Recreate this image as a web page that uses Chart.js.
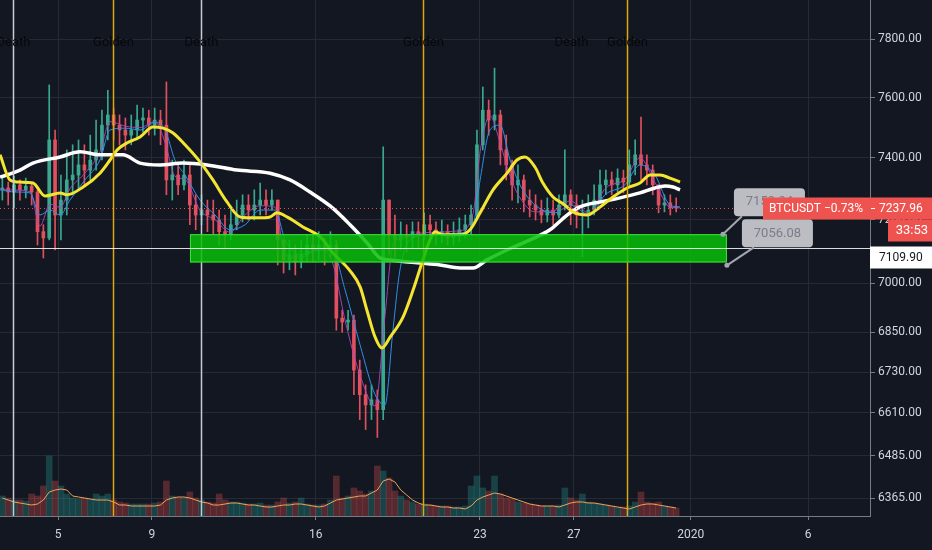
<!DOCTYPE html>
<html>
<head>
<meta charset="utf-8">
<script src="https://cdn.jsdelivr.net/npm/chart.js@4.4.0/dist/chart.umd.min.js"></script>
<style>
  html, body { margin: 0; padding: 0; background: #131722; }
  #wrap { width: 932px; height: 550px; position: relative; }
</style>
</head>
<body>
<div id="wrap"><canvas id="chart"></canvas></div>
<script>
// ---------- data: BTCUSDT, 6h candles; x is day of Dec 2019 (32 = Jan 1 2020) ----------
const firstCandleDay = 2.625;
const candleStep = 0.25;
const firstOpen = 7296;

const closes = [7302,7289,7312,7296,7308,7289,7162,7142,7459,7215,
  7263,7328,7344,7377,7360,7393,7426,7508,7542,7508,
  7492,7475,7492,7525,7532,7508,7525,7508,7328,7344,
  7312,7344,7247,7215,7231,7215,7199,7162,7152,7184,
  7215,7247,7231,7247,7263,7247,7263,7136,7073,7089,
  7067,7089,7120,7104,7120,7104,7120,6893,6881,6887,
  6736,6663,6633,6648,6619,7263,7152,7136,7152,7142,
  7162,7152,7184,7168,7152,7162,7142,7152,7168,7184,
  7215,7443,7558,7525,7542,7426,7377,7312,7328,7263,
  7247,7231,7215,7231,7215,7247,7280,7247,7215,7215,
  7231,7263,7312,7328,7312,7334,7321,7377,7410,7377,
  7360,7312,7247,7254,7238,7237.96];

const highs = [7334,7321,7340,7328,7334,7321,7296,7184,7643,7492,
  7344,7426,7443,7459,7443,7475,7525,7558,7625,7565,
  7542,7532,7542,7575,7565,7558,7565,7558,7653,7393,
  7377,7393,7377,7280,7280,7263,7263,7231,7215,7231,
  7263,7280,7280,7296,7318,7296,7296,7263,7136,7136,
  7120,7136,7152,7152,7162,7142,7162,7136,6917,6917,
  6902,6766,6692,6692,6677,7436,7263,7215,7193,7184,
  7193,7193,7222,7215,7193,7199,7184,7193,7206,7215,
  7247,7492,7636,7592,7700,7558,7475,7393,7377,7344,
  7296,7280,7263,7270,7263,7280,7426,7296,7280,7263,
  7280,7312,7360,7360,7354,7364,7360,7426,7459,7535,
  7410,7377,7312,7280,7280,7270];

const lows = [7263,7247,7238,7263,7270,7247,7120,7079,7136,7104,
  7136,7215,7280,7296,7312,7328,7360,7393,7459,7459,
  7443,7426,7443,7459,7485,7475,7475,7443,7280,7263,
  7280,7296,7184,7168,7184,7162,7152,7120,7111,7136,
  7168,7193,7199,7199,7215,7215,7231,7057,7032,7042,
  7026,7048,7067,7067,7073,7057,7079,6856,6850,6856,
  6663,6590,6561,6590,6538,6590,7089,7079,7104,7098,
  7111,7111,7136,7127,7120,7127,7120,7120,7130,7142,
  7152,7199,7426,7475,7492,7377,7328,7263,7254,7225,
  7209,7199,7190,7193,7184,7206,7231,7184,7174,7082,
  7174,7215,7263,7280,7280,7289,7286,7312,7344,7328,
  7312,7280,7222,7225,7215,7225];

// average hourly volume (BTC) per 6h candle and its moving average
const volumes = [2000,1800,1600,1600,1500,2200,2000,3000,6000,3500,
  3000,2200,1800,1700,1800,1700,2200,2000,2200,1600,
  1400,1300,1200,1200,1200,1200,1300,1400,3500,2000,
  1800,1800,2400,1800,1600,1400,1300,2200,1600,1400,
  1400,1300,1200,1200,1300,1100,1100,1400,1800,1300,
  1400,1800,1200,1100,1100,1200,1600,4000,1800,2000,
  2800,2500,2200,2500,5000,4500,3800,2500,2000,1600,
  1400,1200,1200,1100,1000,1000,1000,900,900,1000,
  3000,4000,2800,2500,4000,2200,1800,1700,1400,1300,
  1200,1100,1000,1000,1000,1100,2800,1800,1600,2200,
  1400,1300,1200,1100,1000,900,900,1000,1400,2400,
  1400,1300,1400,1000,900,800];

const volumeMa = [1800,1600,1400,1300,1200,1100,1200,1600,2400,2600,
  2700,2600,2000,1900,1800,1700,1600,1600,1600,1400,
  1100,1100,1000,1000,1000,1000,1000,1100,1600,1800,
  1900,1900,1800,1600,1400,1300,1100,1100,1200,1300,
  1300,1200,1100,1100,1000,900,900,1000,1100,1100,
  1200,1200,1100,1000,900,1000,1300,1600,1700,1800,
  1900,2000,2000,2300,2600,3500,3700,3400,2600,2100,
  1600,1300,1100,1100,1000,900,900,800,800,700,
  1000,1600,1900,2100,2300,2200,2000,1800,1600,1400,
  1200,1100,1000,1000,1000,900,1100,1300,1400,1400,
  1300,1300,1200,1100,1000,900,800,700,900,1100,
  1200,1200,1100,1000,900,800];

// moving averages
const yellowDays = [2.53,2.95,3.38,3.93,4.45,5.09,5.38,6.07,6.79,7.22,
  7.52,7.94,8.50,9.05,9.48,9.91,10.42,11.06,11.61,12.21,
  12.77,13.49,14.05,14.34,14.77,15.45,16.18,16.73,17.46,17.89,
  18.18,18.53,18.82,19.17,19.72,20.15,20.53,20.87,21.09,21.43,
  22.15,22.58,23.01,23.56,24.16,24.58,24.93,25.35,25.69,26.12,
  26.55,26.97,27.57,28.13,28.68,29.28,29.83,30.26,30.69,31.11,31.54];
const yellowMa = [7410,7328,7321,7318,7276,7286,7280,7305,7350,7393,
  7426,7449,7469,7502,7498,7482,7443,7387,7328,7257,
  7209,7206,7209,7222,7209,7177,7146,7095,7039,6989,
  6917,6835,6802,6835,6896,6979,7064,7136,7162,7152,
  7152,7168,7222,7296,7350,7393,7403,7370,7318,7273,
  7251,7225,7215,7241,7273,7302,7318,7344,7344,7334,7321];

const whiteDays = [2.53,3.38,3.93,5.09,5.94,6.79,7.77,8.50,9.35,10.33,
  11.36,12.64,14.05,14.90,15.75,16.61,17.46,18.18,18.74,19.17,
  20.32,21.30,22.15,22.71,23.30,24.16,25.14,25.99,26.72,27.27,
  28.13,28.98,29.83,30.47,30.90,31.24,31.54];
const whiteMa = [7337,7360,7383,7403,7420,7410,7410,7383,7377,7383,
  7377,7360,7350,7328,7289,7244,7184,7127,7079,7073,
  7064,7057,7048,7048,7073,7104,7136,7168,7215,7241,
  7257,7270,7286,7302,7308,7305,7296];

const fastDays = [2.53,3.17,3.81,4.23,4.66,5.09,5.51,6.15,6.79,7.22,
  7.86,8.50,9.14,9.57,9.99,10.42,11.06,11.70,12.34,12.98,
  13.62,14.26,14.69,15.33,16.18,16.73,17.25,17.89,18.53,18.95,
  19.29,19.59,20.02,20.87,22.15,22.71,23.01,23.43,23.86,24.29,
  24.71,25.35,26.21,26.85,27.70,28.34,29.19,29.83,30.47,31.11,31.54];
const blueMa = [7296,7289,7286,7215,7231,7215,7263,7328,7393,7492,
  7498,7492,7518,7492,7393,7344,7263,7215,7168,7184,
  7231,7231,7136,7089,7104,7098,6979,6811,6663,6633,
  6856,7042,7136,7152,7158,7184,7328,7492,7508,7393,
  7312,7247,7222,7247,7215,7280,7312,7377,7344,7247,7241];
const purpleMa = [7298,7295,7290,7180,7250,7240,7300,7350,7420,7520,
  7505,7500,7520,7450,7340,7330,7230,7200,7160,7215,
  7245,7240,7090,7080,7110,7060,6885,6720,6630,6900,
  7120,7140,7150,7160,7165,7220,7420,7540,7450,7340,
  7270,7225,7230,7260,7220,7300,7330,7400,7320,7240,7238];

const xTicks = [5, 9, 16, 23, 27, 32, 37];
const xTickLabels = ['5', '9', '16', '23', '27', '2020', '6'];
const priceTicks = [6365, 6485, 6610, 6730, 6850, 7000, 7200, 7400, 7600, 7800];
const xMin = 2.525, xMax = 39.645;
const yMin = 6314.5, yMax = 7936;

const signalDays = [3.08, 7.35, 11.10, 20.57, 26.89, 29.28];
const signalNames = ['Death', 'Golden', 'Death', 'Golden', 'Death', 'Golden'];
const signalHasLine = [true, true, true, true, false, true];

const zoneDays = [10.63, 33.54];
const zonePrices = [7153.94, 7065];
const calloutDays = [33.37, 33.54];
const calloutPrices = [7153.94, 7056.08];
const lastPrice = 7237.96;
const lastChange = '\u22120.73%';
const markedPrice = 7109.90;
const countdown = '33:53';

// ---------- build datasets ----------
const UP = '#3aa88f', DOWN = '#e0505e';
const days = closes.map((c, i) => firstCandleDay + i * candleStep);
const opens = closes.map((c, i) => i === 0 ? firstOpen : closes[i - 1]);
const candleColors = closes.map((c, i) => c >= opens[i] ? UP : DOWN);
const volColors = closes.map((c, i) => c >= opens[i] ? 'rgba(38,166,154,0.3)' : 'rgba(239,83,80,0.3)');

function pts(xs, ys) { return xs.map((d, i) => ({ x: d, y: ys[i] })); }

const overlay = {
  id: 'overlay',
  afterDatasetsDraw(chart) {
    const { ctx, chartArea: a, scales: { x, y } } = chart;
    ctx.save();
    ctx.beginPath();
    ctx.rect(a.left, a.top, a.right - a.left, a.bottom - a.top);
    ctx.clip();

    // golden / death cross markers
    signalDays.forEach((d, i) => {
      const px = Math.round(x.getPixelForValue(d)) + 0.5;
      if (signalHasLine[i]) {
        ctx.strokeStyle = signalNames[i] === 'Golden' ? '#d9a90f' : '#c9cbd1';
        ctx.lineWidth = 1.5;
        ctx.beginPath(); ctx.moveTo(px, a.top); ctx.lineTo(px, a.bottom); ctx.stroke();
      }
      ctx.font = '13px Roboto';
      ctx.fillStyle = '#07080c';
      ctx.textAlign = 'center';
      ctx.textBaseline = 'middle';
      ctx.fillText(signalNames[i], px, 43);
    });

    // support zone
    const zx0 = x.getPixelForValue(zoneDays[0]), zx1 = x.getPixelForValue(zoneDays[1]);
    const zy0 = y.getPixelForValue(zonePrices[0]), zy1 = y.getPixelForValue(zonePrices[1]);
    ctx.fillStyle = 'rgba(8,190,8,0.85)';
    ctx.fillRect(zx0, zy0, zx1 - zx0, zy1 - zy0);
    ctx.strokeStyle = '#3ee03e';
    ctx.lineWidth = 1;
    ctx.strokeRect(zx0 + 0.5, zy0 + 0.5, zx1 - zx0 - 1, zy1 - zy0 - 1);

    // marked horizontal price
    const my = Math.round(y.getPixelForValue(markedPrice)) + 0.5;
    ctx.strokeStyle = 'rgba(255,255,255,0.85)';
    ctx.beginPath(); ctx.moveTo(a.left, my); ctx.lineTo(a.right, my); ctx.stroke();

    // last price dotted line
    const ly = Math.round(y.getPixelForValue(lastPrice)) + 0.5;
    ctx.strokeStyle = '#ef5350';
    ctx.setLineDash([1, 3]);
    ctx.beginPath(); ctx.moveTo(a.left, ly); ctx.lineTo(a.right, ly); ctx.stroke();
    ctx.setLineDash([]);
    ctx.restore();

    // price callouts of the zone
    ctx.save();
    calloutPrices.forEach((p, i) => {
      const ax = x.getPixelForValue(calloutDays[i]);
      const ay = y.getPixelForValue(p);
      const bx = ax + 11 + i * 4, by = ay - 18 - 28;
      ctx.strokeStyle = '#a3a6af';
      ctx.lineWidth = 2;
      ctx.beginPath(); ctx.moveTo(ax, ay); ctx.lineTo(bx + 8 + i * 4, by + 28); ctx.stroke();
      ctx.fillStyle = '#a3a6af';
      ctx.beginPath(); ctx.arc(ax, ay, 2.5, 0, Math.PI * 2); ctx.fill();
      ctx.fillStyle = 'rgba(196,198,204,0.95)';
      ctx.beginPath(); ctx.roundRect(bx, by, 71, 28, 4); ctx.fill();
      ctx.fillStyle = '#7b7e89';
      ctx.font = '13px Roboto';
      ctx.textAlign = 'center';
      ctx.textBaseline = 'middle';
      ctx.fillText(p.toFixed(2), bx + 35.5, by + 14);
    });

    // symbol label on the last price
    ctx.fillStyle = '#ef5350';
    ctx.fillRect(a.right - 107, ly - 11, 107, 22);
    ctx.fillStyle = '#ffffff';
    ctx.font = '12px Roboto';
    ctx.textAlign = 'left';
    ctx.textBaseline = 'middle';
    ctx.fillText('BTCUSDT ' + lastChange, a.right - 101, ly + 0.5);

    // price scale labels
    const right = chart.width;
    ctx.fillStyle = '#ef5350';
    ctx.fillRect(a.right, ly - 11, right - a.right, 22);
    ctx.fillRect(a.right + 18, ly + 11, right - a.right - 18, 22);
    ctx.fillStyle = '#ffffff';
    ctx.fillRect(a.right + 1, ly - 0.5, 4, 1);
    ctx.font = '12px Roboto';
    ctx.fillText(lastPrice.toFixed(2), a.right + 9, ly + 0.5);
    ctx.textAlign = 'right';
    ctx.font = '13px Roboto';
    ctx.fillText(countdown, right - 4, ly + 22.5);
    const wy = Math.max(my - 11, ly + 38);
    ctx.fillStyle = '#ffffff';
    ctx.fillRect(a.right, wy, right - a.right, 22);
    ctx.fillStyle = '#131722';
    ctx.textAlign = 'left';
    ctx.font = '12px Roboto';
    ctx.fillText(markedPrice.toFixed(2), a.right + 9, wy + 11.5);
    ctx.restore();
  }
};

Chart.defaults.font.family = 'Roboto';

new Chart(document.getElementById('chart'), {
  type: 'bar',
  data: {
    datasets: [
      {
        type: 'line', label: 'MA 50', data: pts(yellowDays, yellowMa), order: 1,
        borderColor: '#f4e531', borderWidth: 3, pointRadius: 0, cubicInterpolationMode: 'monotone'
      },
      {
        type: 'line', label: 'MA 200', data: pts(whiteDays, whiteMa), order: 2,
        borderColor: '#ffffff', borderWidth: 3.5, pointRadius: 0, cubicInterpolationMode: 'monotone'
      },
      {
        type: 'line', label: 'MA 20', data: pts(fastDays, blueMa), order: 3,
        borderColor: '#2f8fe8', borderWidth: 1, pointRadius: 0, cubicInterpolationMode: 'monotone'
      },
      {
        type: 'line', label: 'MA 10', data: pts(fastDays, purpleMa), order: 3,
        borderColor: 'rgba(171,71,188,0.9)', borderWidth: 1, pointRadius: 0, cubicInterpolationMode: 'monotone'
      },
      {
        label: 'body', data: days.map((d, i) => ({ x: d, y: [opens[i], closes[i]] })), order: 4,
        backgroundColor: candleColors, barThickness: 3, minBarLength: 1, grouped: false
      },
      {
        label: 'wick', data: days.map((d, i) => ({ x: d, y: [lows[i], highs[i]] })), order: 5,
        backgroundColor: candleColors, barThickness: 1, grouped: false
      },
      {
        type: 'line', label: 'Volume MA', data: pts(days, volumeMa), yAxisID: 'yv', order: 6,
        borderColor: '#f0a15a', borderWidth: 1, pointRadius: 0
      },
      {
        label: 'Volume', data: pts(days, volumes), yAxisID: 'yv', order: 7,
        backgroundColor: volColors, barThickness: 6, grouped: false
      }
    ]
  },
  options: {
    responsive: true,
    maintainAspectRatio: false,
    animation: false,
    layout: { padding: 0 },
    plugins: { legend: { display: false }, tooltip: { enabled: false } },
    scales: {
      x: {
        type: 'linear', min: xMin, max: xMax, offset: false, bounds: 'data',
        grid: { color: '#262a35', offset: false, tickLength: 4, tickColor: '#787b86' },
        border: { color: '#787b86' },
        ticks: {
          color: '#d1d4dc', font: { size: 12 }, padding: 8, maxRotation: 0, autoSkip: false,
          callback: v => { const k = xTicks.indexOf(v); return k >= 0 ? xTickLabels[k] : ''; }
        },
        afterBuildTicks: s => { s.min = xMin; s.max = xMax; s.ticks = xTicks.map(v => ({ value: v })); },
        afterFit: s => { s.height = 34; s.paddingLeft = 0; s.paddingRight = 0; }
      },
      y: {
        type: 'logarithmic', position: 'right', min: yMin, max: yMax, bounds: 'data',
        grid: { color: '#262a35', tickLength: 5, tickColor: '#787b86' },
        border: { color: '#787b86' },
        ticks: { color: '#d1d4dc', font: { size: 12 }, padding: 3, autoSkip: false, callback: v => v.toFixed(2) },
        afterBuildTicks: s => { s.min = yMin; s.max = yMax; s.ticks = priceTicks.map(v => ({ value: v })); },
        afterFit: s => { s.width = 62; s.paddingTop = 0; s.paddingBottom = 0; }
      },
      yv: { type: 'linear', display: false, min: 0, max: 51600 }
    }
  },
  plugins: [overlay]
});
</script>
</body>
</html>
